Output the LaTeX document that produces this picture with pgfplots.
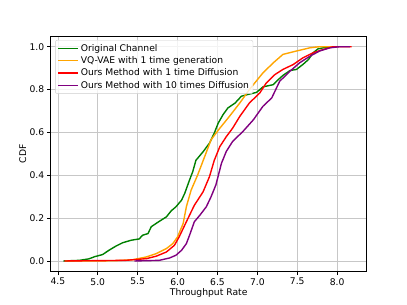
\documentclass[border=0pt]{standalone}
\usepackage{fontspec}
\setmainfont{DejaVu Sans}
\usepackage{pgfplots}
\pgfplotsset{compat=1.18}
\definecolor{mgreen}{RGB}{0,128,0}
\definecolor{morange}{RGB}{255,165,0}
\definecolor{mred}{RGB}{255,0,0}
\definecolor{mpurple}{RGB}{128,0,128}
\begin{document}
\fontsize{9.2bp}{11bp}\selectfont
\begin{tikzpicture}
\path[use as bounding box] (0,0) rectangle (407bp,305bp);
\begin{axis}[
  at={(50.7bp,33.3bp)}, anchor=south west,
  scale only axis, width=316bp, height=235.7bp,
  xmin=4.41, xmax=8.37, ymin=-0.05, ymax=1.05,
  xtick={4.5,5.0,5.5,6.0,6.5,7.0,7.5,8.0},
  ytick={0,0.2,0.4,0.6,0.8,1.0},
  /pgf/number format/assume math mode=true,
  /pgf/number format/fixed, /pgf/number format/fixed zerofill, /pgf/number format/precision=1,
  ticklabel style={font=\fontsize{9.2bp}{11bp}\selectfont},
  label style={font=\fontsize{9.2bp}{11bp}\selectfont},
  tick align=outside, major tick length=3.3bp,
  tick style={black, line width=0.6bp},
  xtick pos=bottom, ytick pos=left,
  grid=major, grid style={color=black!22, line width=0.7bp},
  axis line style={line width=0.7bp},
  xlabel={Throughput Rate}, ylabel={CDF},
  xlabel style={yshift=3bp}, ylabel style={yshift=-3bp},
  legend style={at={(0.014,0.983)}, anchor=north west, draw=black!20, rounded corners=2bp, fill=white, fill opacity=0.8, text opacity=1, draw opacity=1, font=\fontsize{9.2bp}{11bp}\selectfont, row sep=0bp, inner sep=2bp},
  legend cell align=left,
  legend image code/.code={\draw[#1] (0bp,0bp) -- (20bp,0bp);},
  every axis plot/.append style={line width=1.4bp, line join=round},
]
\addlegendimage{draw=mgreen, line width=1.5bp}
\addlegendentry{Original Channel}
\addlegendimage{draw=morange, line width=1.5bp}
\addlegendentry{VQ-VAE with 1 time generation}
\addlegendimage{draw=mred, line width=1.5bp}
\addlegendentry{Ours Method with 1 time Diffusion}
\addlegendimage{draw=mpurple, line width=1.5bp}
\addlegendentry{Ours Method with 10 times Diffusion}
\addplot[mgreen, forget plot] coordinates {
(4.57,0) (4.77,0.003) (4.89,0.01) (4.96,0.02) (5.06,0.03) (5.14,0.05) (5.23,0.07) (5.31,0.085) (5.42,0.097) (5.52,0.103) (5.56,0.12) (5.63,0.128) (5.67,0.16) (5.75,0.18) (5.86,0.206) (5.92,0.234) (5.98,0.253) (6.05,0.284) (6.09,0.316) (6.15,0.378) (6.19,0.417) (6.23,0.47) (6.32,0.51) (6.40,0.55) (6.46,0.597) (6.51,0.644) (6.57,0.683) (6.63,0.714) (6.72,0.737) (6.80,0.769) (6.88,0.777) (6.99,0.787) (7.07,0.8125) (7.20,0.823) (7.24,0.839) (7.32,0.866) (7.41,0.889) (7.49,0.894) (7.57,0.917) (7.64,0.94) (7.70,0.972) (7.76,0.99) (7.87,0.998) (7.95,1.0)
};
\addplot[morange, forget plot] coordinates {
(4.59,0) (5.2,0.001) (5.44,0.006) (5.61,0.019) (5.73,0.034) (5.86,0.058) (5.94,0.081) (6.00,0.1125) (6.07,0.175) (6.11,0.253) (6.17,0.331) (6.25,0.40) (6.34,0.4875) (6.42,0.566) (6.53,0.62) (6.65,0.675) (6.78,0.7375) (6.90,0.80) (7.07,0.878) (7.20,0.925) (7.32,0.964) (7.49,0.98) (7.66,0.995) (7.78,1.0) (7.95,1.0)
};
\addplot[mred, forget plot] coordinates {
(4.58,0) (5.35,0.003) (5.61,0.011) (5.73,0.022) (5.86,0.042) (5.96,0.073) (6.02,0.1125) (6.11,0.183) (6.21,0.26) (6.32,0.323) (6.40,0.394) (6.46,0.47) (6.53,0.534) (6.61,0.58) (6.69,0.62) (6.78,0.675) (6.90,0.7375) (7.03,0.784) (7.11,0.83) (7.22,0.87) (7.32,0.894) (7.45,0.917) (7.57,0.948) (7.70,0.972) (7.83,0.9875) (7.95,1.0) (8.18,1.0)
};
\addplot[mpurple, forget plot] coordinates {
(5.46,0) (5.77,0.003) (5.90,0.014) (5.98,0.027) (6.05,0.05) (6.11,0.081) (6.15,0.12) (6.21,0.183) (6.28,0.214) (6.36,0.253) (6.42,0.30) (6.48,0.355) (6.55,0.456) (6.61,0.511) (6.69,0.558) (6.82,0.605) (6.95,0.659) (7.07,0.722) (7.18,0.761) (7.28,0.839) (7.41,0.886) (7.53,0.925) (7.66,0.956) (7.78,0.98) (7.91,0.995) (8.03,1.0) (8.16,1.0)
};
\end{axis}
\end{tikzpicture}
\end{document}
